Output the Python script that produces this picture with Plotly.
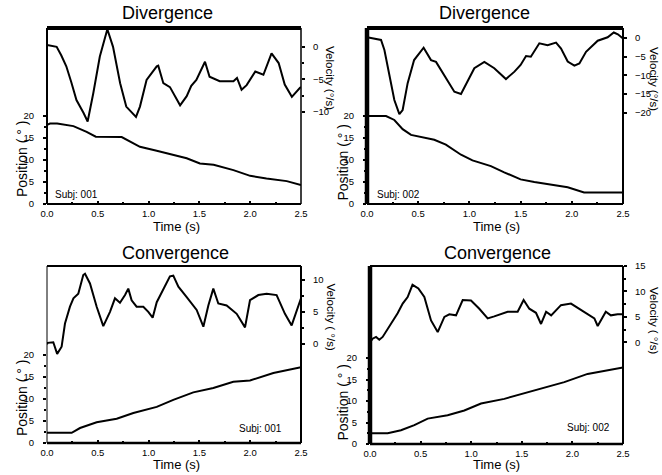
import plotly.graph_objects as go

W, H = 662, 475
FONT = "Liberation Sans, Arial, sans-serif"

# ---- data -------------------------------------------------------------
# Subj 001, divergence
div1_vel_t = [0.0, 0.05, 0.095, 0.14, 0.19, 0.24, 0.29, 0.36, 0.40, 0.456, 0.52, 0.594,
              0.65, 0.72, 0.78, 0.876, 0.915, 0.98, 1.08, 1.095, 1.145, 1.21, 1.31, 1.375,
              1.42, 1.47, 1.555, 1.60, 1.70, 1.835, 1.87, 1.915, 1.965, 2.05, 2.13, 2.21,
              2.28, 2.34, 2.41, 2.49, 2.5]
div1_vel = [0.3, 0.2, 0.0, -1.3, -3.0, -5.5, -8.2, -10.2, -11.5, -7.1, -1.5, 2.7,
            0.0, -5.6, -9.2, -10.8, -9.2, -5.1, -3.0, -2.9, -5.6, -6.2, -9.0, -7.6,
            -6.0, -5.1, -2.3, -4.6, -5.3, -5.3, -4.8, -6.6, -5.9, -3.8, -4.3, -1.0,
            -2.5, -5.8, -7.7, -6.3, -6.2]
div1_pos_t = [0.0, 0.03, 0.1, 0.26, 0.39, 0.48, 0.735, 0.915, 1.08, 1.21, 1.375, 1.505,
              1.64, 1.835, 2.0, 2.16, 2.36, 2.5]
div1_pos = [18.0, 18.3, 18.3, 17.7, 16.4, 15.3, 15.2, 13.0, 12.1, 11.4, 10.4, 9.2,
            8.9, 7.7, 6.4, 5.8, 5.2, 4.3]

# Subj 002, divergence
div2_vel_t = [0.0, 0.137, 0.17, 0.22, 0.267, 0.316, 0.348, 0.397, 0.46, 0.553, 0.625,
              0.674, 0.755, 0.853, 0.918, 0.983, 1.048, 1.146, 1.243, 1.357, 1.44, 1.50,
              1.553, 1.60, 1.683, 1.764, 1.846, 1.895, 1.96, 2.025, 2.074, 2.139, 2.253,
              2.35, 2.41, 2.45, 2.5]
div2_vel = [0.2, -0.5, -3.2, -10.4, -16.6, -20.4, -19.3, -12.1, -5.9, -2.6, -5.9,
            -6.4, -9.9, -14.4, -15.0, -11.7, -8.1, -6.4, -8.1, -11.0, -9.0, -7.2,
            -4.8, -5.0, -1.4, -1.9, -1.2, -2.8, -6.3, -7.4, -6.8, -3.7, -0.7,
            0.2, 1.5, 1.0, -0.1]
div2_pos_t = [0.0, 0.186, 0.267, 0.348, 0.43, 0.527, 0.657, 0.77, 0.918, 1.03, 1.21,
              1.34, 1.50, 1.634, 1.81, 1.96, 2.12, 2.5]
div2_pos = [20.0, 20.0, 19.1, 17.0, 15.7, 15.2, 14.6, 13.5, 11.2, 9.9, 8.6,
            7.2, 5.6, 5.0, 4.4, 3.8, 2.6, 2.6]

# Subj 001, convergence
con1_vel_t = [0.0, 0.007, 0.062, 0.10, 0.144, 0.177, 0.226, 0.26, 0.308, 0.357, 0.374,
              0.423, 0.489, 0.554, 0.62, 0.669, 0.718, 0.768, 0.80, 0.833, 0.882, 0.948,
              0.997, 1.04, 1.08, 1.145, 1.21, 1.243, 1.293, 1.375, 1.473, 1.539, 1.588,
              1.637, 1.686, 1.768, 1.867, 1.949, 1.998, 2.08, 2.162, 2.26, 2.342, 2.408,
              2.457, 2.5]
con1_vel = [0.0, 0.2, 0.3, -1.5, -0.4, 3.2, 5.8, 7.1, 7.8, 10.7, 10.9,
            9.4, 5.8, 2.8, 5.0, 7.1, 6.4, 7.6, 8.6, 6.8, 5.8, 5.8,
            5.0, 4.1, 6.5, 8.4, 10.5, 10.6, 8.9, 7.3, 5.3, 2.7, 6.0,
            8.6, 6.3, 6.0, 4.7, 2.6, 6.8, 7.6, 7.8, 7.6, 4.7, 2.9,
            5.3, 7.1]
con1_pos_t = [0.0, 0.243, 0.325, 0.489, 0.686, 0.85, 1.08, 1.243, 1.44, 1.637, 1.834,
              1.998, 2.228, 2.5]
con1_pos = [2.3, 2.3, 3.4, 4.7, 5.5, 6.8, 8.2, 9.8, 11.5, 12.5, 13.9,
            14.2, 15.9, 17.2]

# Subj 002, convergence
con2_vel_t = [0.0, 0.026, 0.06, 0.092, 0.125, 0.19, 0.273, 0.323, 0.372, 0.42, 0.478,
              0.537, 0.603, 0.669, 0.735, 0.784, 0.85, 0.916, 0.998, 1.08, 1.163, 1.228,
              1.36, 1.459, 1.518, 1.574, 1.64, 1.69, 1.74, 1.79, 1.887, 1.986, 2.118,
              2.217, 2.25, 2.33, 2.38, 2.447, 2.5]
con2_vel = [0.0, 0.7, 1.05, 0.5, 1.05, 3.0, 5.7, 7.6, 8.9, 11.3, 10.6,
            8.9, 4.3, 2.0, 5.0, 5.5, 5.3, 8.3, 8.2, 6.6, 4.7, 5.1,
            6.0, 6.0, 8.3, 6.6, 5.8, 3.6, 6.0, 5.3, 7.3, 7.6, 6.0,
            4.7, 3.2, 6.0, 5.3, 5.5, 5.5]
con2_pos_t = [0.0, 0.175, 0.306, 0.438, 0.57, 0.767, 0.932, 1.097, 1.327, 1.525, 1.723,
              1.92, 2.15, 2.5]
con2_pos = [2.5, 2.5, 3.2, 4.4, 5.9, 6.7, 7.8, 9.4, 10.5, 11.8, 13.1,
            14.4, 16.3, 17.8]

time_ticks = [0.0, 0.5, 1.0, 1.5, 2.0, 2.5]
time_labels = ["0.0", "0.5", "1.0", "1.5", "2.0", "2.5"]
pos_ticks = [0, 5, 10, 15, 20]

panels = [
    dict(title="Divergence", subj="Subj: 001", vel_t=div1_vel_t, vel=div1_vel,
         pos_t=div1_pos_t, pos=div1_pos, vel_ticks=[0, -5, -10], vel_minor=[-2.5, -7.5],
         vel_title="Velocity (°/s)"),
    dict(title="Divergence", subj="Subj: 002", vel_t=div2_vel_t, vel=div2_vel,
         pos_t=div2_pos_t, pos=div2_pos, vel_ticks=[0, -5, -10, -15, -20], vel_minor=[],
         vel_title="Velocity (°/s)"),
    dict(title="Convergence", subj="Subj: 001", vel_t=con1_vel_t, vel=con1_vel,
         pos_t=con1_pos_t, pos=con1_pos, vel_ticks=[0, 5, 10], vel_minor=[2.5, 7.5],
         vel_title="Velocity ( °/s)"),
    dict(title="Convergence", subj="Subj: 002", vel_t=con2_vel_t, vel=con2_vel,
         pos_t=con2_pos_t, pos=con2_pos, vel_ticks=[0, 5, 10, 15], vel_minor=[2.5, 7.5, 12.5],
         vel_title="Velocity ( °/s)"),
]

# ---- layout geometry (pixels) -------------------------------------------
# plot box: left, right, top, bottom
boxes = [(47, 301, 28, 204), (367, 623, 28, 204), (47, 301, 266, 443), (370, 623, 266, 444)]
pos_ranges = [[0, 40], [0, 40], [0, 40.2], [0, 41.4]]
vel_ranges = [[-24.2, 2.9], [-44.5, 2.7], [-15.3, 12.1], [-20, 15]]
# frame widths: top, right, bottom, left
frames = [(4, 1.5, 2, 2), (4, 2, 2, 4.5), (2, 2, 2.5, 1), (2, 2, 2.5, 4.5)]
# text anchors in pixels
title_xy = [(167, 13.5), (485, 13.5), (175.5, 253), (497, 253)]
time_xy = [(176.5, 226.5), (496, 226.5), (176.5, 464.5), (496, 464.5)]
posl_xy = [(22, 159), (342.5, 163), (22, 398), (342.5, 403)]
vell_xy = [(330.5, 77.5), (654, 79), (330.5, 317), (654, 320)]
subj_xy = [(53, 195, "left"), (375, 195, "left"), (284, 428.5, "right"), (612, 427.5, "right")]


def px(x):
    return x / W


def py(y):
    return 1 - y / H


fig = go.Figure()
shapes, annotations = [], []
tick_font = dict(family=FONT, size=9.5, color="black")

for i, (p, (l, r, t, b)) in enumerate(zip(panels, boxes)):
    n = i + 1
    xa = "x" if n == 1 else f"x{n}"
    ya_pos = "y" if n == 1 else f"y{2 * n - 1}"
    ya_vel = f"y{2 * n}"

    fig.add_trace(go.Scatter(x=p["pos_t"], y=p["pos"], mode="lines", xaxis=xa, yaxis=ya_pos,
                             line=dict(color="black", width=2), showlegend=False))
    fig.add_trace(go.Scatter(x=p["vel_t"], y=p["vel"], mode="lines", xaxis=xa, yaxis=ya_vel,
                             line=dict(color="black", width=2), showlegend=False))

    common = dict(showgrid=False, zeroline=False, showline=False, automargin=False,
                  ticklen=3, tickwidth=1.5, tickcolor="black", tickfont=tick_font)
    fig.layout[f"xaxis{'' if n == 1 else n}"] = dict(
        domain=[px(l), px(r)], range=[0, 2.5], anchor=ya_pos, ticks="inside",
        tickvals=time_ticks, ticktext=time_labels, ticklabelstandoff=2,
        minor=dict(tickvals=[0.25, 0.75, 1.25, 1.75, 2.25], ticks="inside",
                   ticklen=2, tickcolor="black"),
        **common)
    fig.layout[f"yaxis{'' if n == 1 else 2 * n - 1}"] = dict(
        domain=[py(b), py(t)], range=pos_ranges[i], anchor=xa, ticks="outside",
        tickvals=pos_ticks, ticklabelstandoff=7,
        minor=dict(tickvals=[2.5, 7.5, 12.5, 17.5], ticks="outside",
                   ticklen=2, tickcolor="black"),
        **common)
    vel_axis = dict(overlaying=ya_pos, side="right", range=vel_ranges[i], anchor=xa,
                    ticks="outside", tickvals=p["vel_ticks"], ticklabelstandoff=6, **common)
    if p["vel_minor"]:
        vel_axis["minor"] = dict(tickvals=p["vel_minor"], ticks="outside", ticklen=2,
                                 tickcolor="black")
    fig.layout[f"yaxis{2 * n}"] = vel_axis

    # plot frame
    wt, wr, wb, wl = frames[i]
    for (x0, y0, x1, y1, w) in [(l, t, r, t, wt), (r, t, r, b, wr),
                                (l, b, r, b, wb), (l, t, l, b, wl)]:
        shapes.append(dict(type="line", xref="paper", yref="paper",
                           x0=px(x0), y0=py(y0), x1=px(x1), y1=py(y1),
                           line=dict(color="black", width=w)))

    tx, ty = title_xy[i]
    annotations.append(dict(text=p["title"], x=px(tx), y=py(ty), xref="paper", yref="paper",
                            showarrow=False, xanchor="center", yanchor="middle",
                            font=dict(family=FONT, size=18, color="black")))
    tx, ty = time_xy[i]
    annotations.append(dict(text="Time (s)", x=px(tx), y=py(ty), xref="paper", yref="paper",
                            showarrow=False, xanchor="center", yanchor="middle",
                            font=dict(family=FONT, size=13, color="black")))
    tx, ty = posl_xy[i]
    annotations.append(dict(text="Position ( ° )", x=px(tx), y=py(ty), xref="paper",
                            yref="paper", showarrow=False, textangle=-90,
                            xanchor="center", yanchor="middle",
                            font=dict(family=FONT, size=14, color="black")))
    tx, ty = vell_xy[i]
    annotations.append(dict(text=p["vel_title"], x=px(tx), y=py(ty), xref="paper",
                            yref="paper", showarrow=False, textangle=90,
                            xanchor="center", yanchor="middle",
                            font=dict(family=FONT, size=11.5, color="black")))
    tx, ty, anc = subj_xy[i]
    annotations.append(dict(text=p["subj"], x=px(tx), y=py(ty), xref="paper", yref="paper",
                            showarrow=False, xanchor=anc, yanchor="middle",
                            font=dict(family=FONT, size=10, color="black")))

fig.update_layout(width=W, height=H, margin=dict(l=0, r=0, t=0, b=0),
                  template="none", paper_bgcolor="white", plot_bgcolor="rgba(0,0,0,0)",
                  shapes=shapes, annotations=annotations, showlegend=False)

fig.write_html("out.html")
